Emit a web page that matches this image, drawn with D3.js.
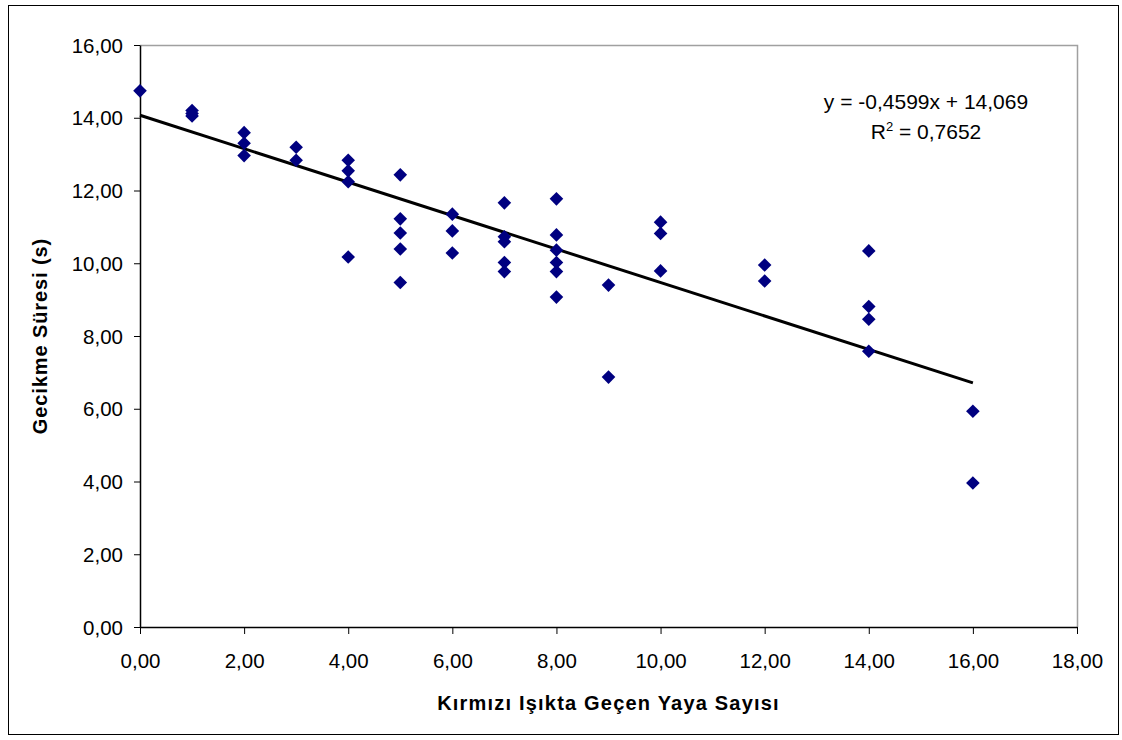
<!DOCTYPE html>
<html>
<head>
<meta charset="utf-8">
<script src="https://cdn.jsdelivr.net/npm/d3@7"></script>
<style>
  html, body { margin: 0; padding: 0; background: #fff; }
  svg { display: block; font-family: "Liberation Sans", Arial, sans-serif; }
</style>
</head>
<body>
<svg id="chart" width="1122" height="740"></svg>
<script>
// ---- data ----
const xValues = [0,
  1, 1, 1,
  2, 2, 2,
  3, 3,
  4, 4, 4, 4,
  5, 5, 5, 5, 5,
  6, 6, 6,
  7, 7, 7, 7, 7,
  8, 8, 8, 8, 8, 8,
  9, 9,
  10, 10, 10,
  12, 12,
  14, 14, 14, 14,
  16, 16];
const yValues = [14.74,
  14.2, 14.12, 14.05,
  13.59, 13.3, 12.96,
  13.19, 12.83,
  12.83, 12.54, 12.24, 10.17,
  12.43, 11.22, 10.83, 10.39, 9.47,
  11.35, 10.89, 10.28,
  11.66, 10.73, 10.59, 10.02, 9.77,
  11.77, 10.78, 10.36, 10.02, 9.77, 9.07,
  9.40, 6.87,
  11.13, 10.82, 9.79,
  9.95, 9.51,
  10.34, 8.81, 8.46, 7.58,
  5.93, 3.96];
const xTicks = [0, 2, 4, 6, 8, 10, 12, 14, 16, 18];
const yTicks = [0, 2, 4, 6, 8, 10, 12, 14, 16];
const trendSlope = -0.4599;
const trendIntercept = 14.069;
const trendRange = [0, 16];
const equationText = "y = -0,4599x + 14,069";
const r2Label = "R";
const r2Sup = "2";
const r2Value = " = 0,7652";
const xTitle = "Kırmızı Işıkta Geçen Yaya Sayısı";
const yTitle = "Gecikme Süresi (s)";

// ---- layout ----
const svg = d3.select("#chart");
const pLeft = 140, pRight = 1077, pTop = 45, pBottom = 627;
const fmt = d => d.toFixed(2).replace(".", ",");

const x = d3.scaleLinear().domain([0, 18]).range([pLeft, pRight]);
const y = d3.scaleLinear().domain([0, 16]).range([pBottom, pTop]);

// outer border
svg.append("rect").attr("x", 8.5).attr("y", 5.5).attr("width", 1110).attr("height", 729)
  .attr("fill", "#fff").attr("stroke", "#000").attr("stroke-width", 1);

// plot area frame (gray top/right)
svg.append("path")
  .attr("d", `M${pLeft},${pTop + 0.5}H${pRight + 0.5}V${pBottom}`)
  .attr("fill", "none").attr("stroke", "#a0a0a0").attr("stroke-width", 1.5);

// axes
const xAxis = d3.axisBottom(x).tickValues(xTicks).tickFormat(fmt).tickSize(7).tickSizeOuter(0).tickPadding(19);
const yAxis = d3.axisLeft(y).tickValues(yTicks).tickFormat(fmt).tickSize(6).tickSizeOuter(0).tickPadding(11);

const gx = svg.append("g").attr("transform", `translate(0,${pBottom})`).call(xAxis);
const gy = svg.append("g").attr("transform", `translate(${pLeft},0)`).call(yAxis);
[gx, gy].forEach(g => {
  g.selectAll("path.domain").attr("stroke", "#000").attr("stroke-width", 1.5);
  g.selectAll(".tick line").attr("stroke", "#000").attr("stroke-width", 1);
  g.selectAll(".tick text").attr("font-size", 20.5).attr("fill", "#000")
    .attr("font-family", "'Liberation Sans', Arial, sans-serif");
});
gy.selectAll(".tick text").attr("dy", "0.35em");

// axis titles
svg.append("text").attr("x", (pLeft + pRight) / 2).attr("y", 710)
  .attr("text-anchor", "middle").attr("font-size", 20).attr("font-weight", "bold")
  .attr("letter-spacing", "1.2px").text(xTitle);
svg.append("text").attr("transform", `translate(47,${(pTop + pBottom) / 2}) rotate(-90)`)
  .attr("text-anchor", "middle").attr("font-size", 20).attr("font-weight", "bold")
  .attr("letter-spacing", "0.9px").text(yTitle);

// trend line
svg.append("line")
  .attr("x1", x(trendRange[0])).attr("y1", y(trendSlope * trendRange[0] + trendIntercept))
  .attr("x2", x(trendRange[1])).attr("y2", y(trendSlope * trendRange[1] + trendIntercept))
  .attr("stroke", "#000").attr("stroke-width", 3);

// points (diamonds)
const r = 6.8;
svg.append("g").selectAll("path").data(xValues.map((d, i) => [d, yValues[i]]))
  .join("path")
  .attr("d", d => {
    const cx = x(d[0]), cy = y(d[1]);
    return `M${cx},${cy - r}L${cx + r},${cy}L${cx},${cy + r}L${cx - r},${cy}Z`;
  })
  .attr("fill", "#000080");

// equation labels
const eqX = 926;
svg.append("text").attr("x", eqX).attr("y", 109).attr("text-anchor", "middle")
  .attr("font-size", 21).text(equationText);
const r2 = svg.append("text").attr("x", eqX).attr("y", 139).attr("text-anchor", "middle")
  .attr("font-size", 21);
r2.append("tspan").text(r2Label);
r2.append("tspan").attr("font-size", 13).attr("dy", -8).text(r2Sup);
r2.append("tspan").attr("dy", 8).text(r2Value);
</script>
</body>
</html>
